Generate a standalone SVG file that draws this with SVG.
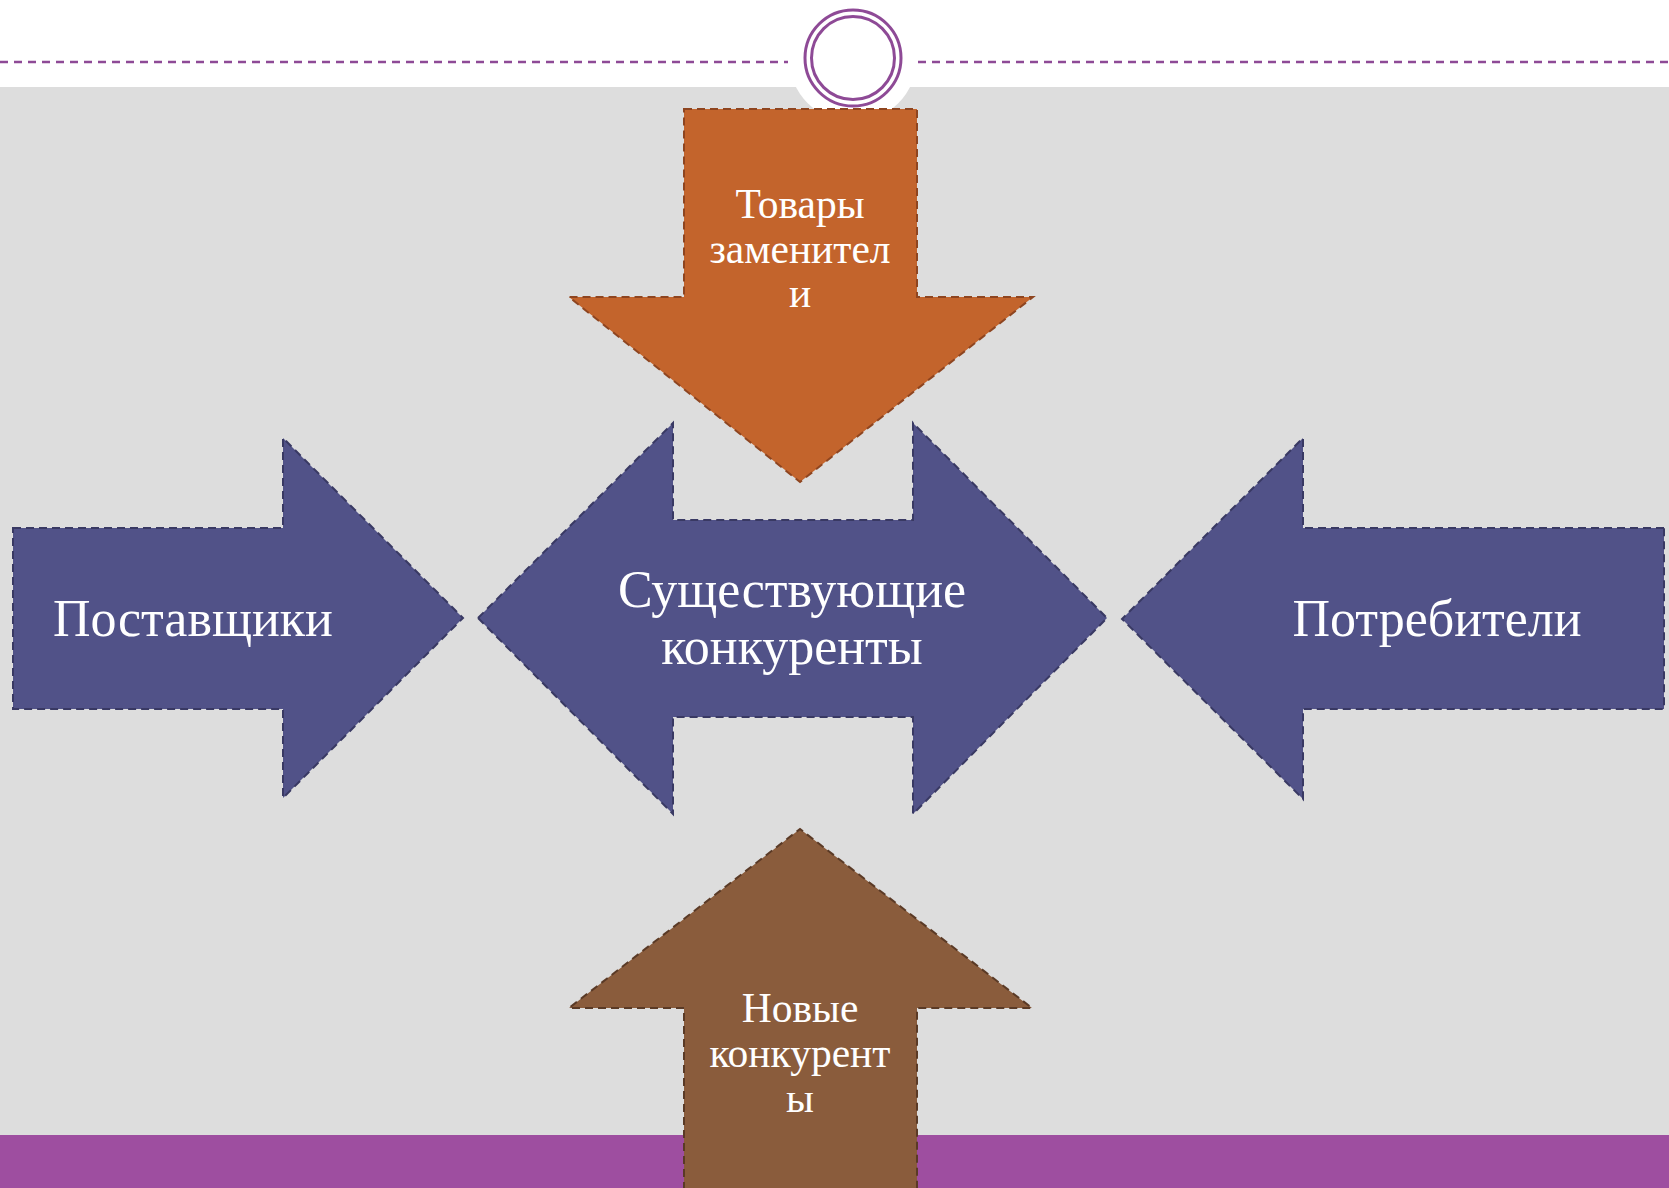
<svg xmlns="http://www.w3.org/2000/svg" width="1669" height="1188" viewBox="0 0 1669 1188">
<style>
.lbl{font-family:"Liberation Serif","DejaVu Serif",serif;fill:#ffffff;text-anchor:middle}
.big{font-size:52px}
.small{font-size:41.5px}
.blue{fill:#515288;stroke:#393963;stroke-width:2;stroke-dasharray:8 5}
.orange{fill:#C3642C;stroke:#8E4520;stroke-width:2;stroke-dasharray:8 5}
.brown{fill:#8A5C3C;stroke:#5A3A26;stroke-width:2;stroke-dasharray:8 5}
</style>
<rect x="0" y="0" width="1669" height="1188" fill="#ffffff"/>
<rect x="0" y="87" width="1669" height="1048" fill="#DDDDDD"/>
<rect x="0" y="1135" width="1669" height="53" fill="#9E4EA0"/>
<g id="header">
<line x1="0" y1="62" x2="788" y2="62" stroke="#8E4A96" stroke-width="2.5" stroke-dasharray="8 6"/>
<line x1="918" y1="62" x2="1669" y2="62" stroke="#8E4A96" stroke-width="2.5" stroke-dasharray="8 6"/>
<circle cx="853" cy="58" r="64" fill="#ffffff"/>
<circle cx="853" cy="58" r="48" fill="none" stroke="#8E4A96" stroke-width="3"/>
<circle cx="853" cy="58" r="41.5" fill="none" stroke="#8E4A96" stroke-width="3"/>
</g>
<g id="connectors"></g>
<g id="node-substitutes">
<path class="orange" d="M684,109 H917 V297 H1033 L800,482 L569,297 H684 Z"/>
<text class="lbl small" x="800" y="218">Товары</text>
<text class="lbl small" x="800" y="263">заменител</text>
<text class="lbl small" x="800" y="307">и</text>
</g>
<g id="node-suppliers">
<path class="blue" d="M13,528 H283 V438 L463,618 L283,798 V709 H13 Z"/>
<text class="lbl big" x="193" y="636">Поставщики</text>
</g>
<g id="node-competitors">
<path class="blue" d="M478,618 L673,423 V520 H913 V423 L1107,618 L913,814 V717 H673 V814 Z"/>
<text class="lbl big" x="792" y="607">Существующие</text>
<text class="lbl big" x="792" y="664">конкуренты</text>
</g>
<g id="node-consumers">
<path class="blue" d="M1664,528 H1303 V438 L1122,619 L1303,799 V709 H1664 Z"/>
<text class="lbl big" x="1437" y="636">Потребители</text>
</g>
<g id="node-newcomers">
<path class="brown" d="M684,1190 V1008 H569 L800,829 L1032,1008 H917 V1190"/>
<text class="lbl small" x="800" y="1022">Новые</text>
<text class="lbl small" x="800" y="1067">конкурент</text>
<text class="lbl small" x="800" y="1112">ы</text>
</g>
</svg>
